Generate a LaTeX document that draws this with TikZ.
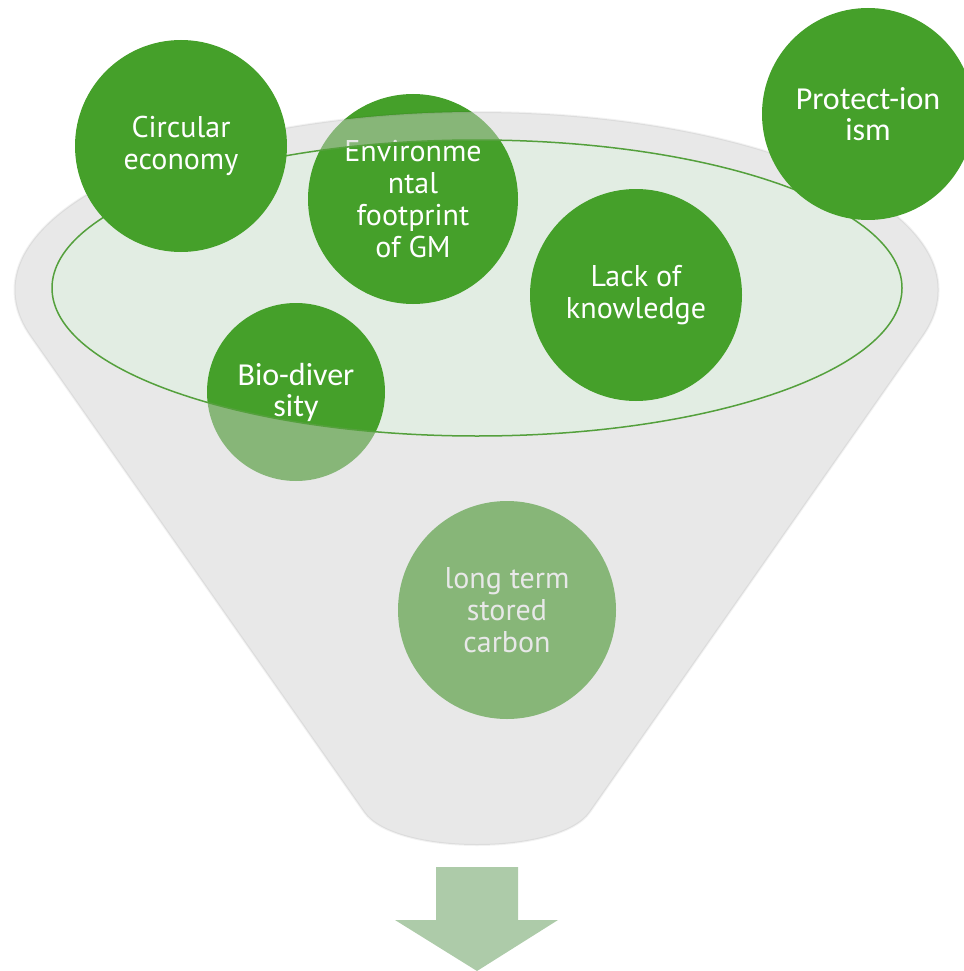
\documentclass[tikz,border=0pt]{standalone}
\usepackage{fontspec}
\setmainfont{PT Sans}
\newfontfamily\calib{Carlito}
\definecolor{dgreen}{RGB}{69,160,42}
\definecolor{ellfill}{RGB}{226,237,227}
\definecolor{ellline}{RGB}{84,160,60}
\definecolor{funnelc}{RGB}{207,207,207}
\definecolor{arrowc}{RGB}{173,203,169}
\begin{document}
\begin{tikzpicture}[x=1pt,y=-1pt,
  bubble/.style={circle,fill=dgreen,inner sep=0pt,text=white,align=center,
    font=\fontsize{30}{32}\selectfont},
  cbubble/.style={bubble,font=\calib\fontsize{32}{31}\selectfont}]
\useasboundingbox (0,0) rectangle (963,971);
% funnel mouth (inner ellipse)
\fill[ellfill] (477,288) ellipse [x radius=425, y radius=148];
% bubbles lying under the funnel rim/body
\node[bubble,minimum size=210pt] (env) at (413,199) {Environme\\ntal\\footprint\\of GM};
\node[cbubble,minimum size=178pt] (bio) at (296,392) {Bio-diver\\sity};
\node[bubble,minimum size=218pt] (ltc) at (507,610) {long term\\stored\\carbon};
% funnel body with open mouth
\fill[funnelc, fill opacity=0.48, even odd rule]
  (31,337) arc[start angle=164.7, end angle=375.3, x radius=462, y radius=178]
  -- (590,812) .. controls (560,856) and (394,856) .. (364,812) -- cycle
  (477,288) ellipse [x radius=425, y radius=148];
\draw[black, opacity=0.05, line width=2pt]
  (31,337) arc[start angle=164.7, end angle=375.3, x radius=462, y radius=178]
  -- (590,812) .. controls (560,856) and (394,856) .. (364,812) -- cycle;
\draw[ellline, line width=1.5pt] (477,288) ellipse [x radius=425, y radius=148];
% bubbles lying above the funnel
\node[bubble,minimum size=212pt] (lok) at (636,295) {Lack of\\knowledge};
\node[bubble,minimum size=212pt] (cec) at (181,146) {Circular\\economy};
\node[cbubble,minimum size=212pt] (pro) at (868,114) {Protect-ion\\ism};
% output arrow
\fill[arrowc] (436,867) -- (518,867) -- (518,920) -- (558,920) -- (477,971)
  -- (395,920) -- (436,920) -- cycle;
\end{tikzpicture}
\end{document}
